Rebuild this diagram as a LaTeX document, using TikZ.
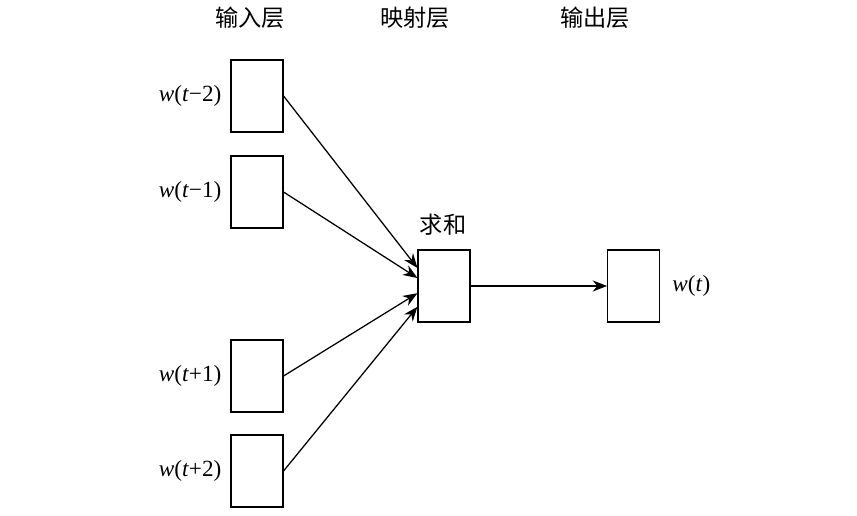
\documentclass[tikz,border=0pt]{standalone}
\usepackage{fontspec}
\setmainfont{Liberation Serif}
\newfontfamily\cjk{Noto Sans CJK SC}
\usetikzlibrary{arrows.meta,positioning}

\tikzset{
    unit/.style={draw,thick,minimum width=1.3cm,minimum height=1.8cm,inner sep=0pt},
    word/.style={inner sep=0pt,font=\fontsize{16.5}{19}\selectfont},
    head/.style={inner sep=0pt,font=\cjk\fontsize{16.5}{19}\selectfont},
    link/.style={line width=0.9pt,-{Stealth[length=0.36cm,width=0.28cm]}}
}

\begin{document}
\begin{tikzpicture}

            \useasboundingbox (0,0) rectangle (21.425,12.875);

            % Layer titles
            \node (hin) at (6.25,12.425) [head] {输入层};
            \node (hmap) at (10.375,12.425) [head] {映射层};
            \node (hout) at (14.875,12.425) [head] {输出层};

            % Input words
            \node (in1) at (6.425,10.475) [unit] {};
            \node (in2) at (6.425,8.075) [unit] {};
            \node (in3) at (6.425,3.475) [unit] {};
            \node (in4) at (6.425,1.1) [unit] {};
            \node (lin1) [word, left=0.22cm of in1] {\textit{w}(\textit{t}−2)};
            \node (lin2) [word, left=0.22cm of in2] {\textit{w}(\textit{t}−1)};
            \node (lin3) [word, left=0.22cm of in3] {\textit{w}(\textit{t}+1)};
            \node (lin4) [word, left=0.22cm of in4] {\textit{w}(\textit{t}+2)};

            % Projection (sum) and output
            \node (sum) at (11.1,5.725) [unit] {};
            \node (lsum) at (11.075,7.25) [head] {求和};
            \node (out) at (15.84,5.725) [unit] {};
            \node (lout) [word, right=0.3cm of out] {\textit{w}(\textit{t})};

            % Connections
            \draw[link] (in1.east) -- ([yshift=0.45cm]sum.west);
            \draw[link] (in2.east) -- ([yshift=0.2cm]sum.west);
            \draw[link] (in3.east) -- ([yshift=-0.18cm]sum.west);
            \draw[link] (in4.east) -- ([yshift=-0.52cm]sum.west);
            \draw[link] (sum.east) -- (out.west);

        \end{tikzpicture}
\end{document}
